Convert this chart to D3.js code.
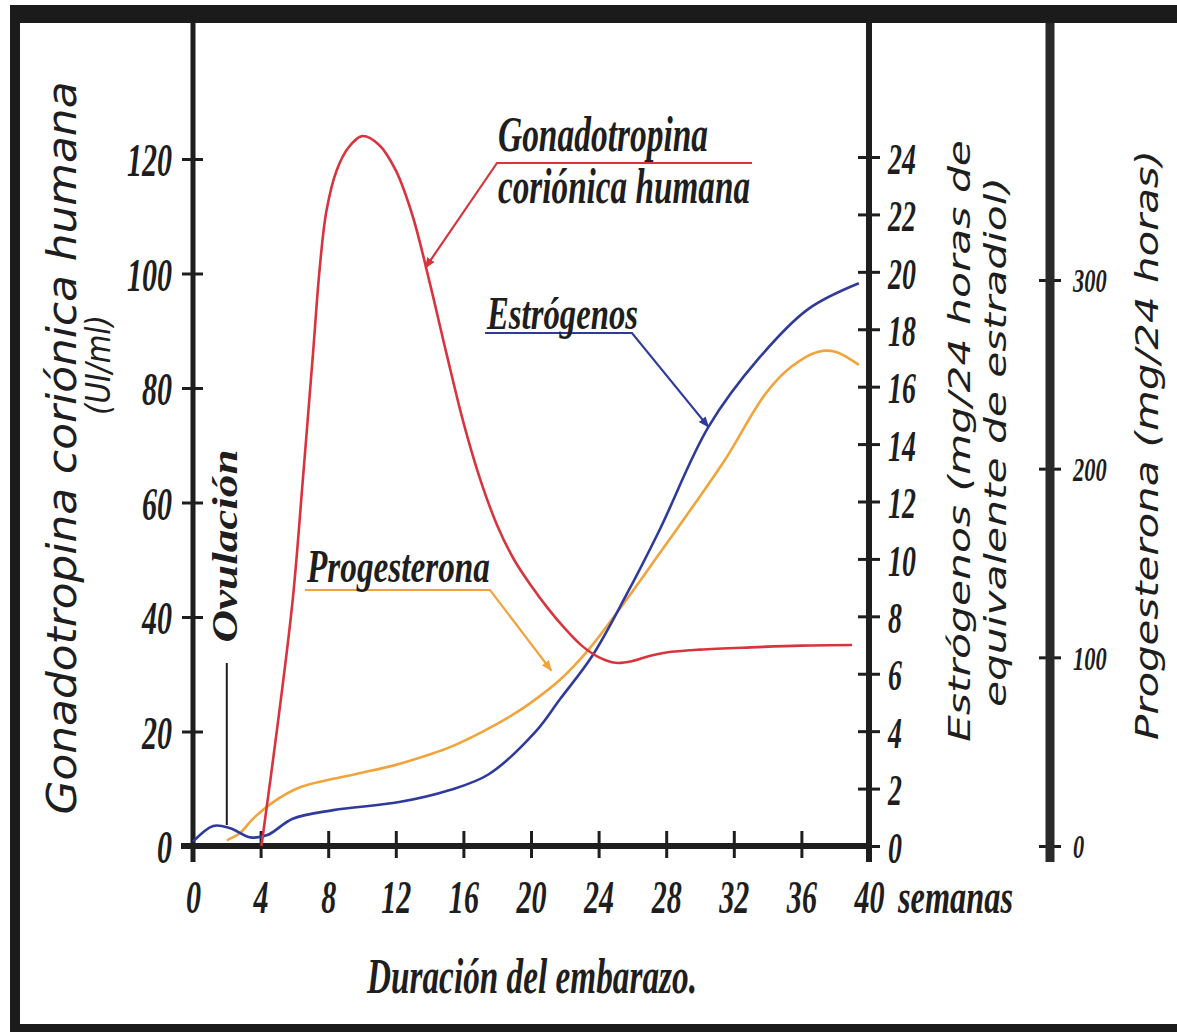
<!DOCTYPE html>
<html>
<head>
<meta charset="utf-8">
<script src="https://cdn.jsdelivr.net/npm/d3@7"></script>
<style>
  body { margin: 0; background: #fff; }
  svg { display: block; }
</style>
</head>
<body>
<div id="chart"></div>
<script>
// tick labels
const weekTicks = [0, 4, 8, 12, 16, 20, 24, 28, 32, 36, 40];
const hcgTicks = [0, 20, 40, 60, 80, 100, 120];
const estTicks = [0, 2, 4, 6, 8, 10, 12, 14, 16, 18, 20, 22, 24];
const progTicks = [0, 100, 200, 300];

// gonadotropina corionica humana (UI/ml)
const hcgWeeks  = [4.05, 5, 5.9, 6.5, 7.1, 7.5, 7.9, 8.5, 9.2, 10, 11, 12, 13, 14, 15, 16, 17, 18, 19, 20, 21, 22, 23, 24, 25, 26, 27, 28, 30, 33, 36, 39];
const hcgValues = [0, 21, 43, 64, 86, 101, 111, 118, 122, 124, 122.5, 118, 110, 98.5, 86, 74, 64, 56, 50, 45.5, 41.5, 38, 35, 33, 32, 32.3, 33.2, 33.8, 34.3, 34.7, 35, 35.1];

// estrogenos (mg/24 h)
const estWeeks  = [0, 1.2, 2.2, 3.4, 4.4, 5.9, 8.3, 12.2, 15.2, 17.5, 20.3, 21.7, 23.6, 25.6, 27.6, 30.5, 33.5, 36.4, 39.4];
const estValues = [0.15, 0.7, 0.62, 0.3, 0.38, 0.95, 1.25, 1.53, 1.95, 2.5, 4.0, 5.1, 6.6, 8.7, 11.0, 14.6, 17.0, 18.7, 19.6];

// progesterona (mg/24 h)
const progWeeks  = [2, 2.8, 3.5, 4.7, 6.3, 9.6, 12, 14, 15.1, 17, 19, 20, 21.7, 23.4, 25.6, 27.6, 29.5, 31.5, 33.9, 35.4, 37, 38, 39.4];
const progValues = [3, 7, 14, 23, 31, 38, 43, 48.5, 52, 60, 70, 76, 88, 104, 130, 155, 179, 205, 240, 254, 262, 262, 255];

const W = 1177, H = 1032;
const serif = '"Liberation Serif", "Times New Roman", serif';
const sans = '"DejaVu Sans", sans-serif';
const ink = '#1e1e1e';
const red = '#d8343e', blue = '#2f3b9c', orange = '#f1a43c';

const svg = d3.select('#chart').append('svg')
  .attr('width', W).attr('height', H);

svg.append('rect').attr('width', W).attr('height', H).attr('fill', '#fff');

// black frame of the scan
svg.append('rect').attr('x', 10).attr('y', 5).attr('width', W - 10).attr('height', 18).attr('fill', '#1b1b1b');
svg.append('rect').attr('x', 10).attr('y', 5).attr('width', 10).attr('height', H - 5).attr('fill', '#1b1b1b');
svg.append('rect').attr('x', 10).attr('y', 1024).attr('width', W - 10).attr('height', 8).attr('fill', '#1b1b1b');

const x = d3.scaleLinear().domain([0, 40]).range([193, 869]);
const yH = d3.scaleLinear().domain([0, 120]).range([846, 159]);
const yE = d3.scaleLinear().domain([0, 24]).range([846, 157]);
const yP = d3.scaleLinear().domain([0, 300]).range([846, 280]);

function squeeze(sel, k) {
  sel.each(function() {
    const w = this.getComputedTextLength();
    d3.select(this).attr('textLength', w * k).attr('lengthAdjust', 'spacingAndGlyphs');
  });
}

function txt(x0, y0, s, size, opt = {}) {
  const t = svg.append('text')
    .attr('x', x0).attr('y', y0)
    .attr('text-anchor', opt.anchor || 'start')
    .attr('fill', ink)
    .style('font-family', opt.family || serif)
    .style('font-style', 'italic')
    .style('font-weight', opt.weight || (opt.family ? 'normal' : 'bold'))
    .style('font-size', size + 'px')
    .text(s);
  if (opt.rotate) t.attr('transform', `rotate(${opt.rotate},${x0},${y0})`);
  if (opt.len) t.attr('textLength', opt.len).attr('lengthAdjust', 'spacingAndGlyphs');
  return t;
}

function styleTicks(g, size, k) {
  g.select('.domain').remove();
  g.selectAll('.tick line').attr('stroke', ink).attr('stroke-width', 3);
  g.selectAll('.tick text')
    .attr('fill', ink)
    .style('font-family', serif)
    .style('font-style', 'italic')
    .style('font-weight', 'bold')
    .style('font-size', size + 'px')
    .call(squeeze, k);
}

// left axis (hCG)
const gL = svg.append('g').attr('transform', `translate(${x(0)},0)`)
  .call(d3.axisLeft(yH).tickValues(hcgTicks));
gL.selectAll('.tick line').attr('x1', -11).attr('x2', 10);
gL.selectAll('.tick text').attr('x', -21).attr('dy', '0.36em');
styleTicks(gL, 47, 0.64);
svg.append('line').attr('x1', x(0)).attr('x2', x(0)).attr('y1', 23).attr('y2', 862)
  .attr('stroke', ink).attr('stroke-width', 5);

// estrogen axis
const gE = svg.append('g').attr('transform', `translate(${x(40)},0)`)
  .call(d3.axisRight(yE).tickValues(estTicks));
gE.selectAll('.tick line').attr('x1', -11).attr('x2', 11);
gE.selectAll('.tick text').attr('x', 19).attr('dy', '0.36em');
styleTicks(gE, 45, 0.62);
svg.append('line').attr('x1', x(40)).attr('x2', x(40)).attr('y1', 23).attr('y2', 862)
  .attr('stroke', ink).attr('stroke-width', 6);

// progesterone axis
const progX = 1050;
const gP = svg.append('g').attr('transform', `translate(${progX},0)`)
  .call(d3.axisRight(yP).tickValues(progTicks));
gP.selectAll('.tick line').attr('x1', -11).attr('x2', 11);
gP.selectAll('.tick text').attr('x', 23).attr('dy', '0.36em');
styleTicks(gP, 33, 0.68);
svg.append('line').attr('x1', progX).attr('x2', progX).attr('y1', 23).attr('y2', 862)
  .attr('stroke', '#2a2a2a').attr('stroke-width', 9);

// bottom axis (weeks)
const gB = svg.append('g').attr('transform', `translate(0,${yH(0)})`)
  .call(d3.axisBottom(x).tickValues(weekTicks));
gB.selectAll('.tick line').attr('y1', -15).attr('y2', 12);
gB.selectAll('.tick text').attr('y', 67).attr('dy', 0);
styleTicks(gB, 47, 0.64);
svg.append('line').attr('x1', 181).attr('x2', x(40) + 3).attr('y1', yH(0)).attr('y2', yH(0))
  .attr('stroke', ink).attr('stroke-width', 6);

// curves
function curve(xs, vs, yScale, color) {
  const pts = xs.map((w, i) => [w, vs[i]]);
  svg.append('path')
    .datum(pts)
    .attr('fill', 'none')
    .attr('stroke', color)
    .attr('stroke-width', 2.6)
    .attr('stroke-linejoin', 'round')
    .attr('d', d3.line().x(d => x(d[0])).y(d => yScale(d[1])).curve(d3.curveCatmullRom.alpha(0.5)));
}
curve(progWeeks, progValues, yP, orange);
curve(estWeeks, estValues, yE, blue);
curve(hcgWeeks, hcgValues, yH, red);

// ovulation marker
svg.append('line').attr('x1', x(2)).attr('x2', x(2)).attr('y1', 663).attr('y2', 825)
  .attr('stroke', ink).attr('stroke-width', 2);
txt(237, 546, 'Ovulación', 36, { anchor: 'middle', rotate: -90, len: 193 });

// leader lines with arrow tips
const defs = svg.append('defs');
[['r', red], ['b', blue], ['o', orange]].forEach(([id, c]) => {
  defs.append('marker').attr('id', 'tip-' + id)
    .attr('viewBox', '0 0 10 10').attr('refX', 9).attr('refY', 5)
    .attr('markerWidth', 5).attr('markerHeight', 5).attr('orient', 'auto')
    .append('path').attr('d', 'M0,1L10,5L0,9Z').attr('fill', c);
});
function leader(pts, color, id) {
  svg.append('path')
    .attr('d', d3.line()(pts))
    .attr('fill', 'none').attr('stroke', color).attr('stroke-width', 2.2)
    .attr('marker-end', `url(#tip-${id})`);
}
leader([[752, 163], [497, 163], [x(13.75), yH(101)]], red, 'r');
leader([[485, 333], [632, 333], [x(30.5), yE(14.6)]], blue, 'b');
leader([[305, 590], [490, 590], [x(21.2), yP(93)]], orange, 'o');

// series labels
txt(498, 151, 'Gonadotropina', 50, { len: 210 });
txt(498, 203, 'coriónica humana', 50, { len: 252 });
txt(487, 329, 'Estrógenos', 46, { len: 151 });
txt(307, 582, 'Progesterona', 46, { len: 183 });

// axis titles
txt(898, 913, 'semanas', 48, { len: 115 });
txt(532, 993, 'Duración del embarazo.', 50, { anchor: 'middle', len: 330 });
txt(76, 448, 'Gonadotropina coriónica humana', 40, { family: sans, anchor: 'middle', rotate: -90, len: 733 });
txt(110, 365, '(UI/ml)', 34, { family: sans, anchor: 'middle', rotate: -90, len: 100 });
txt(970, 441, 'Estrógenos (mg/24 horas de', 31, { family: sans, anchor: 'middle', rotate: -90, len: 602 });
txt(1006, 442, 'equivalente de estradiol)', 31, { family: sans, anchor: 'middle', rotate: -90, len: 530 });
txt(1158, 445, 'Progesterona (mg/24 horas)', 32, { family: sans, anchor: 'middle', rotate: -90, len: 590 });
</script>
</body>
</html>
